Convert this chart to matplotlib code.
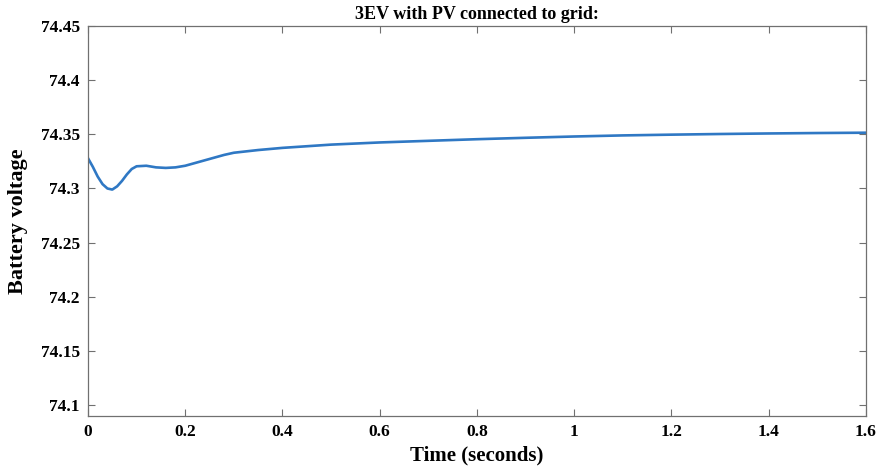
import matplotlib
matplotlib.use("Agg")
import matplotlib.pyplot as plt

# battery voltage
time_s = [0, 0.01, 0.02, 0.03, 0.04, 0.05, 0.06, 0.07, 0.08, 0.09, 0.10,
          0.12, 0.14, 0.16, 0.18, 0.20, 0.22, 0.24, 0.26, 0.28, 0.30,
          0.35, 0.4, 0.5, 0.6, 0.7, 0.8, 0.9, 1.0, 1.1, 1.2, 1.3, 1.4, 1.5, 1.6]
voltage = [74.328, 74.320, 74.311, 74.304, 74.300, 74.299, 74.302, 74.307,
           74.313, 74.318, 74.3205, 74.321, 74.3195, 74.319, 74.3195, 74.321,
           74.3235, 74.326, 74.3285, 74.331, 74.333, 74.3355, 74.3375,
           74.3405, 74.3425, 74.344, 74.3455, 74.3468, 74.348, 74.349,
           74.3497, 74.3503, 74.3508, 74.3512, 74.3515]

x_ticks = [0, 0.2, 0.4, 0.6, 0.8, 1, 1.2, 1.4, 1.6]
x_labels = ["0", "0.2", "0.4", "0.6", "0.8", "1", "1.2", "1.4", "1.6"]
y_ticks = [74.1, 74.15, 74.2, 74.25, 74.3, 74.35, 74.4, 74.45]
y_labels = ["74.1", "74.15", "74.2", "74.25", "74.3", "74.35", "74.4", "74.45"]

plt.rcParams['font.family'] = ['Liberation Serif', 'DejaVu Serif']
plt.rcParams['font.weight'] = 'bold'

fig = plt.figure(figsize=(8.85, 4.71), dpi=100)
ax = fig.add_axes([0.0994, 0.1168, 0.8791, 0.828])
ax.plot(time_s, voltage, color='#2F78C4', linewidth=1.9)

ax.set_xlim(0, 1.6)
ax.set_ylim(74.09, 74.45)
ax.set_xticks(x_ticks)
ax.set_xticklabels(x_labels, fontsize=12.5, fontweight='bold')
ax.set_yticks(y_ticks)
ax.set_yticklabels(y_labels, fontsize=12.5, fontweight='bold')
ax.tick_params(direction='in', top=True, right=True, length=5, width=0.8,
               color='#707070', pad=6)
for s in ax.spines.values():
    s.set_color('#707070')
    s.set_linewidth(0.9)

ax.set_xlabel("Time (seconds)", fontsize=15, fontweight='bold', labelpad=4)
ax.set_ylabel("Battery voltage", fontsize=16, fontweight='bold', labelpad=9)
ax.set_title("3EV with PV connected to grid:", fontsize=13, fontweight='bold', pad=5)

fig.savefig("out.png", dpi=100)
